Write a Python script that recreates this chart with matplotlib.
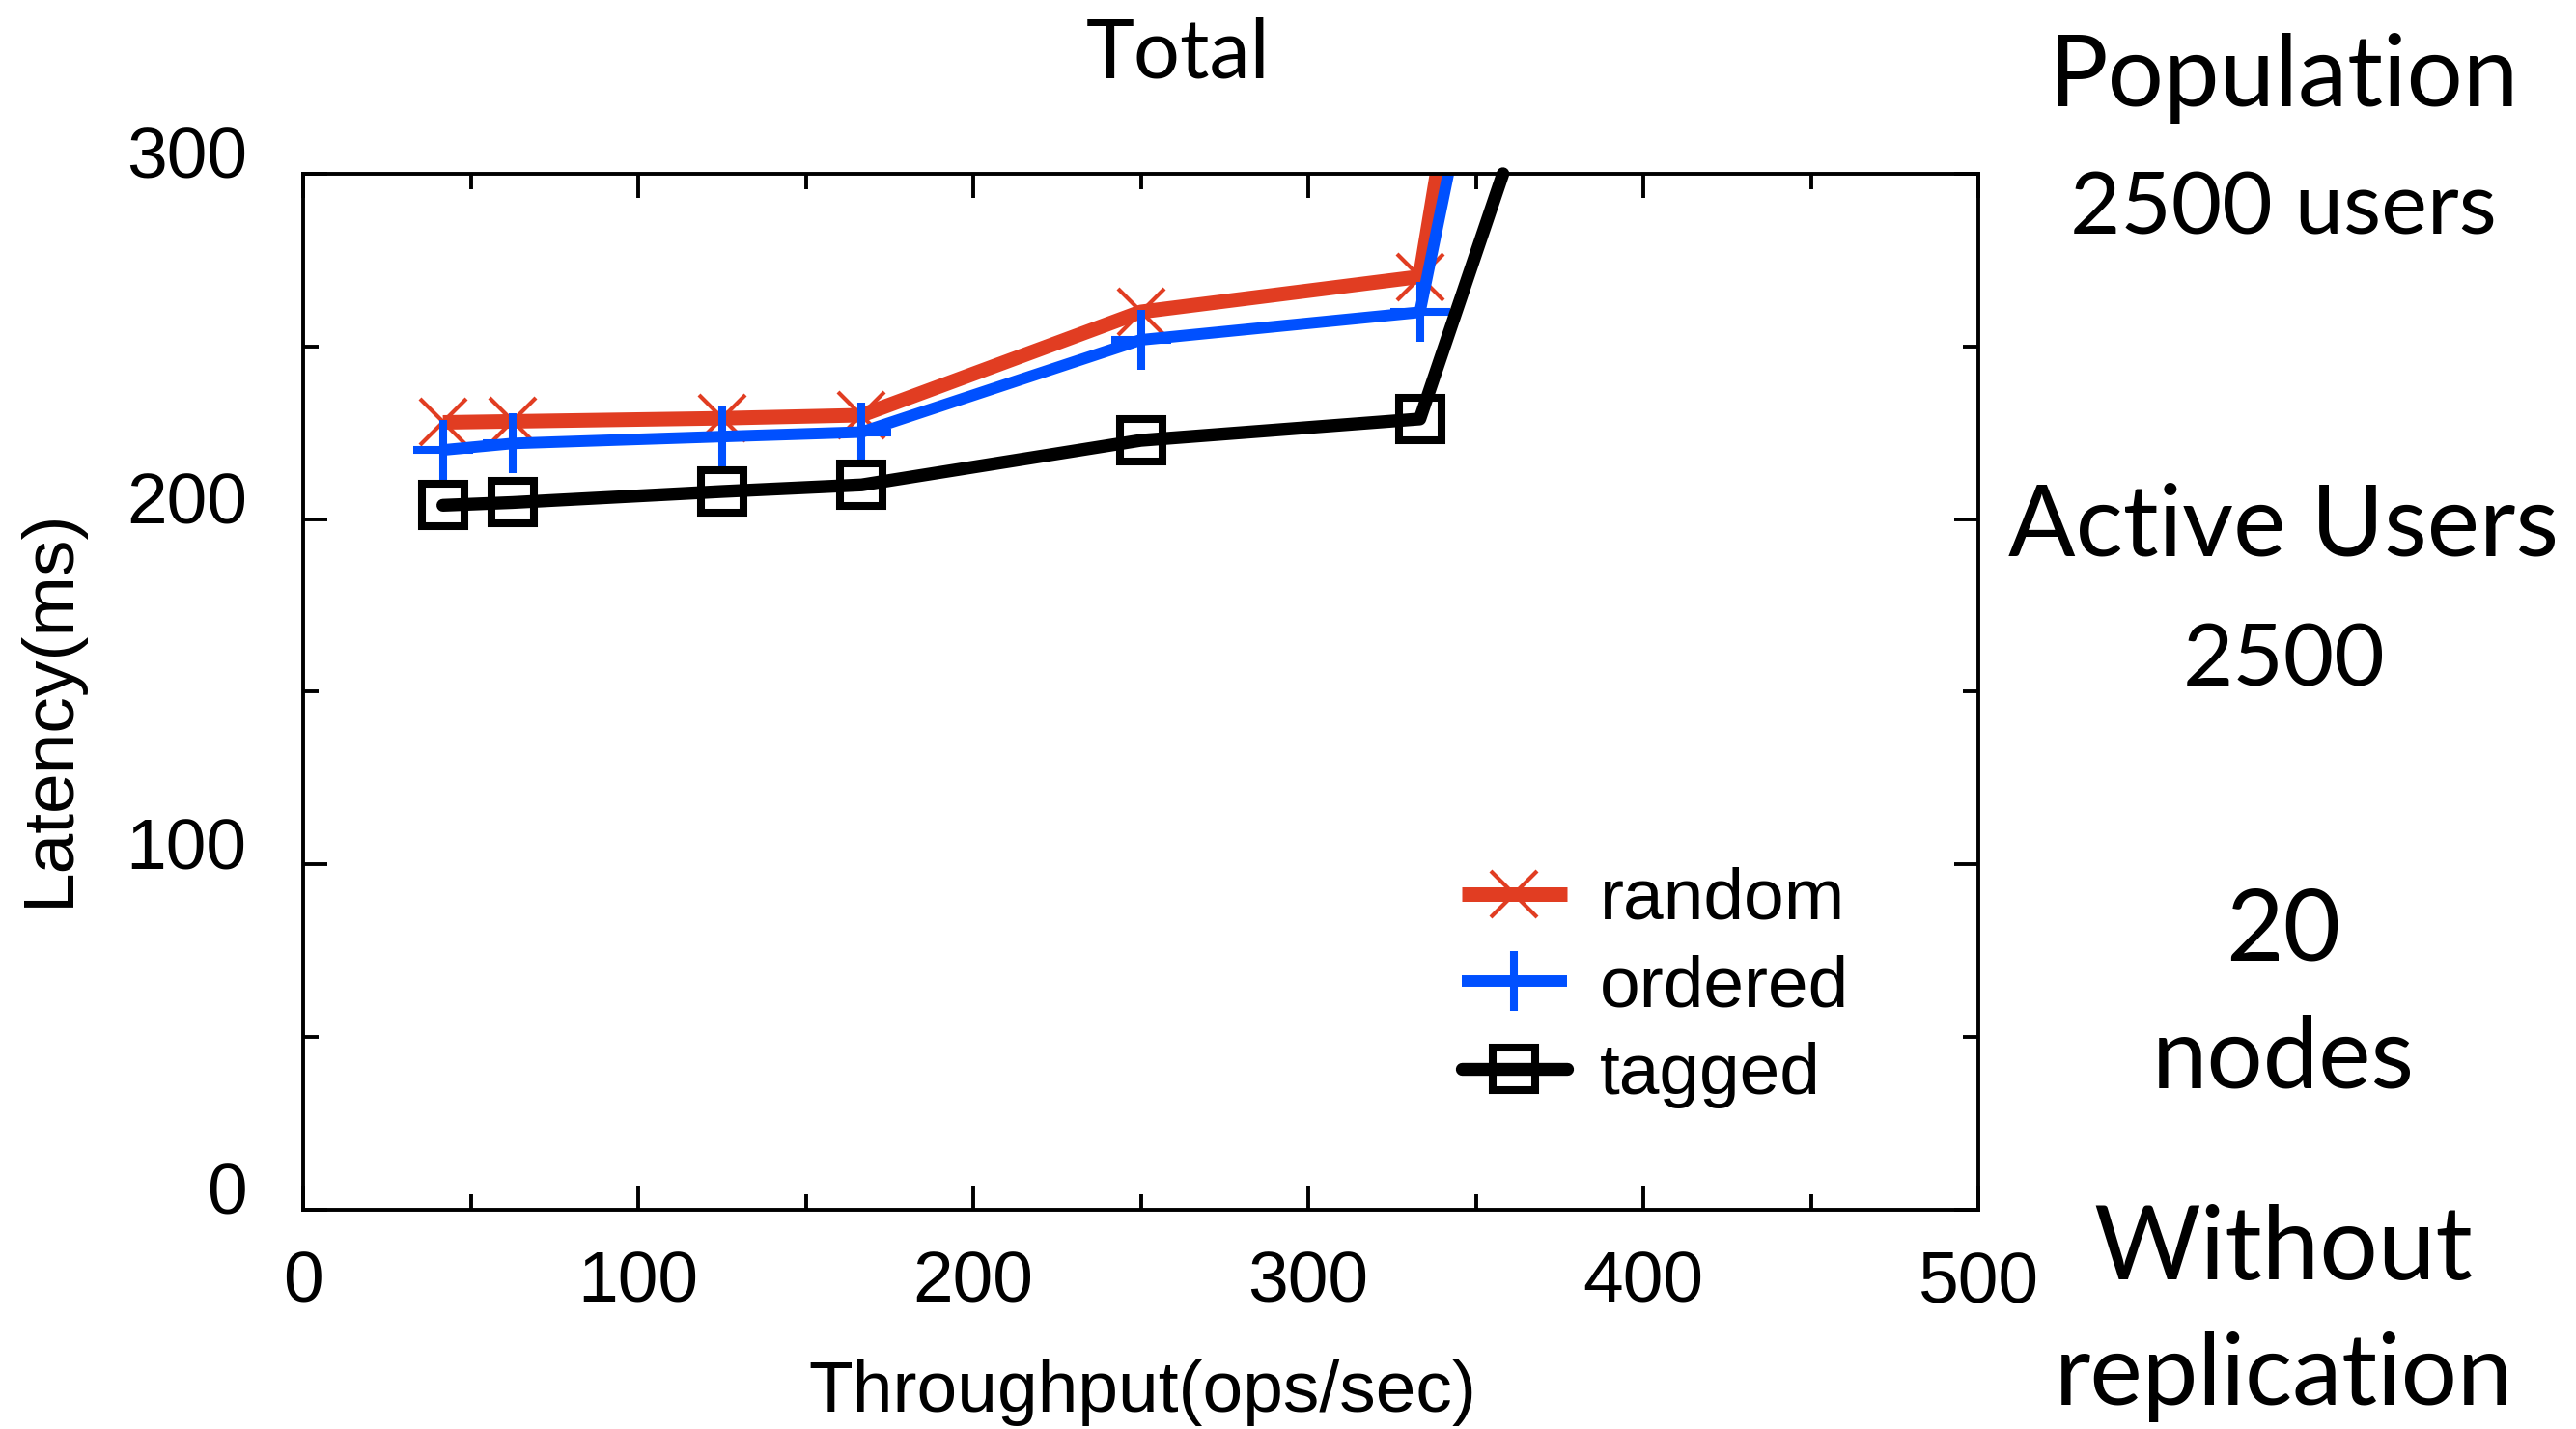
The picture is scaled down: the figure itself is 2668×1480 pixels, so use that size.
import numpy as np
import matplotlib
matplotlib.use('Agg')
import matplotlib.pyplot as plt
from matplotlib.transforms import ScaledTranslation

# throughput (ops/sec) and latency (ms)
throughput = [41.7, 62.5, 125.0, 166.7, 250.0, 333.3]
random_lat = [228.0, 228.3, 229.2, 230.1, 260.0, 270.2]
ordered_lat = [220.0, 221.9, 223.9, 225.2, 251.9, 259.9]
tagged_lat = [204.0, 204.8, 208.0, 209.9, 222.8, 229.0]

# where each curve leaves the top of the plot
exit_x = {'random': 338.4, 'ordered': 341.8, 'tagged': 358.1}
exit_y = 300

series_names = ['random', 'ordered', 'tagged']
xticks = [0, 100, 200, 300, 400, 500]
yticks = [0, 100, 200, 300]

side_text = [
    ('Population', 37, 0.926),
    ('2500 users', 32.5, 0.836),
    ('Active Users', 37, 0.611),
    ('2500', 32.5, 0.520),
    ('20', 37, 0.328),
    ('nodes', 37, 0.239),
    ('Without', 38.5, 0.105),
    ('replication', 37, 0.017),
]

red = '#E13D22'
blue = '#0050FF'

plt.rcParams['font.family'] = 'Liberation Sans'
fs = 27

fig = plt.figure(figsize=(13.34, 7.4), dpi=200)
ax = fig.add_axes([0.1177, 0.1534, 0.6503, 0.7250])

lat = {'random': random_lat, 'ordered': ordered_lat, 'tagged': tagged_lat}
style = {
    'random': dict(color=red, lw=5.4, marker='x', ms=17, mew=1.5, solid_capstyle='butt'),
    'ordered': dict(color=blue, lw=4.3, marker='+', ms=22, mew=2.9, solid_capstyle='butt'),
    'tagged': dict(color='black', lw=4.8, marker='s', ms=16, mew=2.9, mfc='none',
                   solid_capstyle='round', solid_joinstyle='round'),
}
for name in series_names:
    xs = throughput + [exit_x[name]]
    ys = lat[name] + [exit_y]
    ax.plot(xs, ys, label=name, markevery=list(range(len(throughput))),
            clip_on=False, **style[name])

ax.set_xlim(0, 500)
ax.set_ylim(0, 300)
ax.set_xticks(xticks)
ax.set_yticks(yticks)
ax.set_xticks(np.arange(50, 500, 100), minor=True)
ax.set_yticks(np.arange(50, 300, 100), minor=True)
ax.tick_params(which='both', direction='in', top=True, right=True, width=1.4,
               labelsize=fs)
ax.tick_params(which='major', length=9)
ax.tick_params(which='minor', length=5.8)
ax.tick_params(axis='x', pad=15)
ax.tick_params(axis='y', pad=21)
for lab in ax.get_yticklabels():
    lab.set_transform(lab.get_transform() + ScaledTranslation(0, 22 / 200, fig.dpi_scale_trans))
for s in ax.spines.values():
    s.set_linewidth(1.4)

fig.text(51 / 2668, 1 - 733 / 1480, 'Latency(ms)', rotation=90, ha='center', va='center', fontsize=fs)
fig.text(0.4434, 0.012, 'Throughput(ops/sec)', ha='center', va='baseline', fontsize=fs)

ax.legend(loc='upper left', bbox_to_anchor=(0.67, 0.366), frameon=False, fontsize=fs,
          handlelength=1.45, handletextpad=0.45, labelspacing=0.29, borderpad=0,
          numpoints=1)

fig.text(0.4573, 0.9453, 'Total', family='Lato', fontsize=30.5, ha='center', va='baseline')
for txt, size, y in side_text:
    fig.text(0.8865, y, txt, family='Lato', fontsize=size, ha='center', va='baseline')

fig.savefig('out.png', dpi=200)
